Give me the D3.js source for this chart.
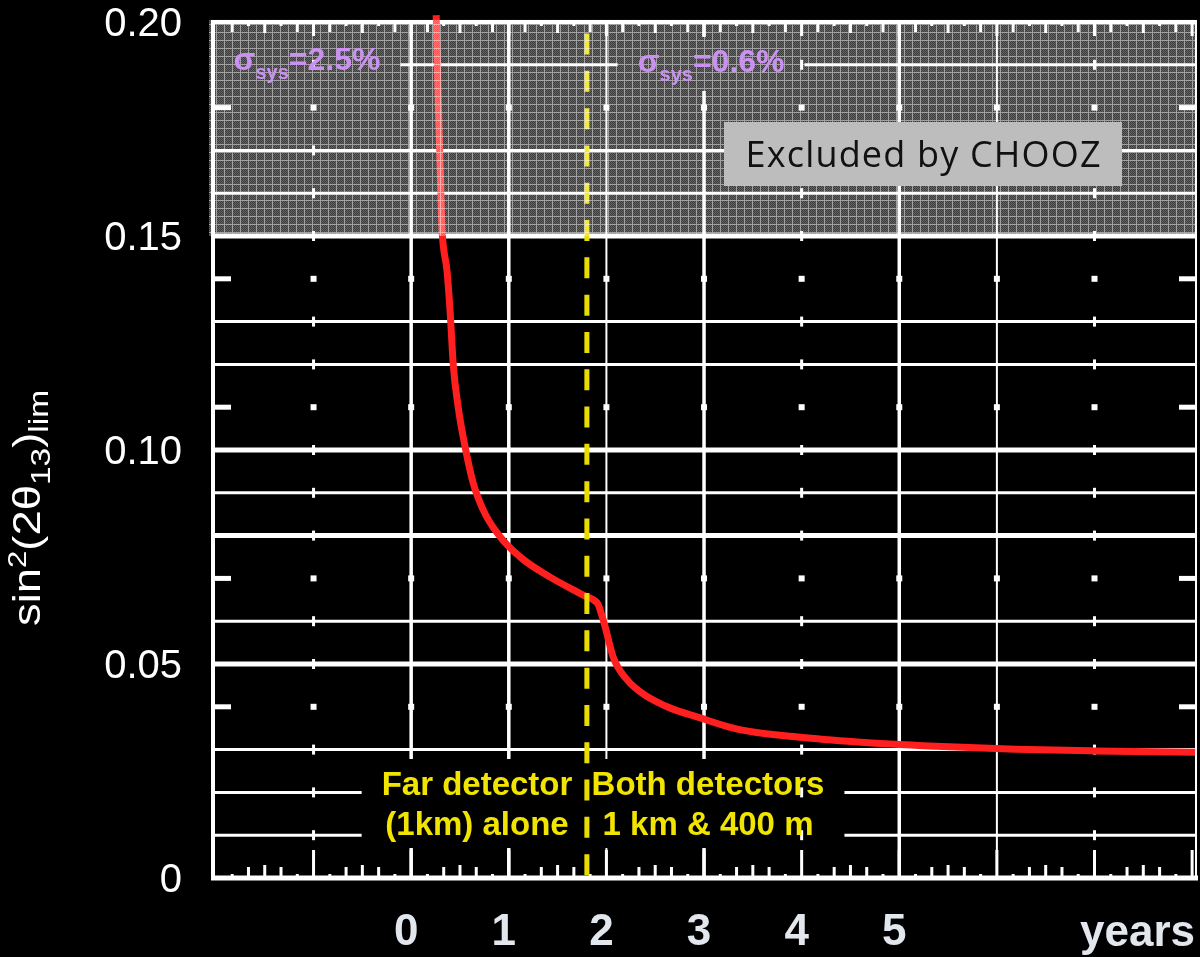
<!DOCTYPE html>
<html>
<head>
<meta charset="utf-8">
<script src="https://cdn.jsdelivr.net/npm/d3@7"></script>
<style>
  html, body { margin: 0; padding: 0; background: #000; }
  svg { display: block; }
</style>
</head>
<body>
<div id="chart"></div>
<script>
/* sensitivity curve: measuring time (years) vs sin^2(2 theta13) limit */
var years = [0.256, 0.277, 0.297, 0.318, 0.369, 0.400, 0.430, 0.482, 0.553, 0.635,
             0.738, 0.912, 1.117, 1.424, 1.762, 1.906, 1.967, 2.070, 2.213, 2.346,
             2.623, 2.961, 3.299, 3.986, 4.570, 5.380, 6.190, 7.000, 8.030];
var sinLimit = [0.2016, 0.1818, 0.1661, 0.1507, 0.1414, 0.1320, 0.1203, 0.1100, 0.1007, 0.0923,
                0.0860, 0.0797, 0.0750, 0.0703, 0.0661, 0.0643, 0.0603, 0.0516, 0.0463, 0.0435,
                0.0400, 0.0374, 0.0350, 0.0329, 0.0318, 0.0308, 0.0301, 0.0297, 0.0294];

/* axis ticks */
var yTicks = [0, 0.05, 0.10, 0.15, 0.20];
var yTickLabels = ["0", "0.05", "0.10", "0.15", "0.20"];
var xTicks = [0, 1, 2, 3, 4, 5];

/* grid of the scanned plot */
var lineRows = [0.01, 0.02, 0.03, 0.05, 0.06, 0.08, 0.09, 0.10, 0.12, 0.13, 0.15, 0.16, 0.17, 0.19];
var thickRows = [0.05, 0.08, 0.10, 0.15];
var markRows = [0.04, 0.07, 0.11, 0.14, 0.18];
var lineYears = [0, 1, 3, 5];
var thinYears = [2, 6];
var markYears = [-1, 4, 7];

/* annotations */
var choozLimit = 0.15;
var switchYear = 1.8;
var sigmaFar = "=2.5%", sigmaBoth = "=0.6%";

var W = 1200, H = 957;
var x = d3.scaleLinear().domain([-2.03, 8.05]).range([213, 1197]);
var y = d3.scaleLinear().domain([0, 0.2]).range([878, 22]);

var svg = d3.select("#chart").append("svg")
    .attr("width", W)
    .attr("height", H);

svg.append("rect").attr("width", W).attr("height", H).attr("fill", "#000");

/* texture for the excluded band */
var pat = svg.append("defs").append("pattern")
    .attr("id", "band")
    .attr("patternUnits", "userSpaceOnUse")
    .attr("width", 8).attr("height", 8);
pat.append("rect").attr("width", 8).attr("height", 8).attr("fill", "#646464");
for (var i = 0; i < 8; i++) {
  for (var j = 0; j < 8; j++) {
    if ((i + j) % 2 == 0 && i > 0 && j > 0) {
      pat.append("rect").attr("x", i).attr("y", j).attr("width", 1).attr("height", 1).attr("fill", "#3c3c3c");
    }
  }
}
pat.append("rect").attr("width", 8).attr("height", 1).attr("fill", "#a2a2a2");
pat.append("rect").attr("width", 1).attr("height", 8).attr("fill", "#a2a2a2");

/* layers in drawing order */
var gridG = svg.append("g");
var curveG = svg.append("g");
var bandG = svg.append("g");
var textG = svg.append("g");

/* ---- annotations first, so the grid can leave gaps around them ---- */
var gaps = [];
function addGap(node, padX, padY) {
  var b = node.getBBox();
  gaps.push({x0: b.x - padX, x1: b.x + b.width + padX, y0: b.y - padY, y1: b.y + b.height + padY});
}

function sigmaLabel(px, py, value) {
  var t = textG.append("text")
      .attr("x", px).attr("y", py)
      .attr("font-family", "Liberation Sans, Arial, sans-serif")
      .attr("font-weight", "bold")
      .attr("font-size", 32)
      .attr("fill", "#cc90f4");
  t.append("tspan").text("σ");
  t.append("tspan").attr("font-size", 20).attr("dy", 9).text("sys");
  t.append("tspan").attr("dy", -9).text(value);
  addGap(t.node(), 20, 6);
}
sigmaLabel(x(-1.82), 70, sigmaFar);
sigmaLabel(x(2.32), 72, sigmaBoth);

/* CHOOZ box */
var boxG = textG.append("g");
boxG.append("rect")
    .attr("x", 724).attr("y", 122)
    .attr("width", 398).attr("height", 64)
    .attr("fill", "#bdbdbd");
boxG.append("text")
    .attr("x", 923).attr("y", 167)
    .attr("text-anchor", "middle")
    .attr("font-family", "Comic Sans MS, Open Sans, sans-serif")
    .attr("font-size", 36)
    .attr("textLength", 355)
    .attr("lengthAdjust", "spacing")
    .attr("fill", "#111")
    .text("Excluded by CHOOZ");
addGap(boxG.node(), 0, 0);

/* detector labels */
function yellowBlock(cx, lines) {
  var g = textG.append("g");
  lines.forEach(function(s, k) {
    g.append("text")
      .attr("x", cx).attr("y", 795 + k * 40)
      .attr("text-anchor", "middle")
      .attr("font-family", "Liberation Sans, Arial, sans-serif")
      .attr("font-weight", "bold")
      .attr("font-size", 33)
      .attr("fill", "#f0e400")
      .text(s);
  });
  addGap(g.node(), 20, 6);
}
yellowBlock(477, ["Far detector", "(1km) alone"]);
yellowBlock(708, ["Both detectors", "1 km & 400 m"]);

/* ---- grid ---- */
function cut(a, b, list) {
  var segs = [[a, b]];
  list.forEach(function(g) {
    var out = [];
    segs.forEach(function(s) {
      if (g[1] <= s[0] || g[0] >= s[1]) { out.push(s); return; }
      if (g[0] > s[0]) out.push([s[0], g[0]]);
      if (g[1] < s[1]) out.push([g[1], s[1]]);
    });
    segs = out;
  });
  return segs.filter(function(s) { return s[1] - s[0] > 12; });
}

var X0 = x.range()[0], X1 = x.range()[1];
var Y0 = y.range()[0], Y1 = y.range()[1];

lineRows.forEach(function(v) {
  var yy = y(v);
  var g = gaps.filter(function(b) { return yy >= b.y0 && yy <= b.y1; })
              .map(function(b) { return [b.x0, b.x1]; });
  cut(X0, X1, g).forEach(function(s) {
    gridG.append("line")
      .attr("x1", s[0]).attr("x2", s[1])
      .attr("y1", yy).attr("y2", yy)
      .attr("stroke", "#fff")
      .attr("stroke-width", thickRows.indexOf(v) >= 0 ? 5 : 3);
  });
});

function vline(t, w) {
  var xx = x(t);
  var g = gaps.filter(function(b) { return xx >= b.x0 && xx <= b.x1; })
              .map(function(b) { return [b.y0, b.y1]; });
  cut(Y1, Y0, g).forEach(function(s) {
    gridG.append("line")
      .attr("x1", xx).attr("x2", xx)
      .attr("y1", s[0]).attr("y2", s[1])
      .attr("stroke", "#fff")
      .attr("stroke-width", w);
  });
}
lineYears.forEach(function(t) { vline(t, 3.5); });
thinYears.forEach(function(t) { vline(t, 2); });

/* small marks where grid lines are missing */
var allYears = d3.range(-1, 8);
markRows.forEach(function(v) {
  allYears.forEach(function(t) {
    gridG.append("rect")
      .attr("x", x(t) - 3).attr("y", y(v) - 3)
      .attr("width", 6).attr("height", 6)
      .attr("fill", "#fff");
  });
  gridG.append("rect").attr("x", X0).attr("y", y(v) - 2.5).attr("width", 18).attr("height", 5).attr("fill", "#fff");
  gridG.append("rect").attr("x", X1 - 18).attr("y", y(v) - 2.5).attr("width", 18).attr("height", 5).attr("fill", "#fff");
});
lineRows.forEach(function(v) {
  markYears.forEach(function(t) {
    gridG.append("rect")
      .attr("x", x(t) - 1.5).attr("y", y(v) - 5)
      .attr("width", 3).attr("height", 10)
      .attr("fill", "#fff");
  });
});

/* minor ticks every two months along bottom and top */
var minor = d3.range(-12, 49).map(function(k) { return k / 6; })
    .filter(function(t) { return x(t) > X0 + 4 && x(t) < X1 - 2; });
minor.forEach(function(t, k) {
  var whole = Math.abs(t - Math.round(t)) < 1e-6;
  var half = Math.abs(t * 2 - Math.round(t * 2)) < 1e-6;
  var hb = whole ? 28 : (half ? 13 : (k % 2 ? 11 : 4));
  var ht = whole ? 14 : (half ? 11 : (k % 2 ? 4 : 10));
  gridG.append("rect")
    .attr("x", x(t) - 1.5).attr("y", Y0 - hb)
    .attr("width", 3).attr("height", hb)
    .attr("fill", "#fff");
  gridG.append("rect")
    .attr("x", x(t) - 1.5).attr("y", Y1)
    .attr("width", 3).attr("height", ht)
    .attr("fill", "#fff");
});

/* frame */
gridG.append("line").attr("x1", X0).attr("x2", X0).attr("y1", Y1 - 2).attr("y2", Y0 + 2)
    .attr("stroke", "#fff").attr("stroke-width", 4);
gridG.append("line").attr("x1", X1 - 1).attr("x2", X1 - 1).attr("y1", Y1).attr("y2", Y0)
    .attr("stroke", "#fff").attr("stroke-width", 2);
gridG.append("line").attr("x1", X0 - 2).attr("x2", X1 + 1).attr("y1", Y0).attr("y2", Y0)
    .attr("stroke", "#fff").attr("stroke-width", 5);
gridG.append("line").attr("x1", X0).attr("x2", X1).attr("y1", Y1).attr("y2", Y1)
    .attr("stroke", "#fff").attr("stroke-width", 4);

/* ---- curve and detector switch ---- */
var pts = years.map(function(t, k) { return [t, sinLimit[k]]; });
var line = d3.line()
    .x(function(d) { return x(d[0]); })
    .y(function(d) { return y(d[1]); })
    .curve(d3.curveMonotoneX);

curveG.append("path")
    .attr("d", line(pts))
    .attr("fill", "none")
    .attr("stroke", "#ff1f1f")
    .attr("stroke-width", 7)
    .attr("stroke-linejoin", "round");

curveG.append("line")
    .attr("x1", x(switchYear)).attr("x2", x(switchYear))
    .attr("y1", y(0.1973)).attr("y2", Y0)
    .attr("stroke", "#e9dd00")
    .attr("stroke-width", 5)
    .attr("stroke-dasharray", "21 16.3");

/* ---- excluded band (screen blended over the plot) ---- */
bandG.append("rect")
    .attr("x", X0 - 4)
    .attr("y", y(0.2005))
    .attr("width", X1 - X0 + 4)
    .attr("height", y(choozLimit) - y(0.2005))
    .attr("fill", "url(#band)")
    .style("mix-blend-mode", "screen");

/* ---- axes text ---- */
textG.selectAll(".ylab")
  .data(yTicks)
  .enter()
    .append("text")
      .attr("class", "ylab")
      .attr("x", 182)
      .attr("y", function(d) { return y(d) + 14; })
      .attr("text-anchor", "end")
      .attr("font-family", "Liberation Sans, Arial, sans-serif")
      .attr("font-size", 40)
      .attr("fill", "#fff")
      .text(function(d, i) { return yTickLabels[i]; });

textG.selectAll(".xlab")
  .data(xTicks)
  .enter()
    .append("text")
      .attr("class", "xlab")
      .attr("x", function(d) { return x(d) - 5; })
      .attr("y", 945)
      .attr("text-anchor", "middle")
      .attr("font-family", "Liberation Sans, Arial, sans-serif")
      .attr("font-weight", "bold")
      .attr("font-size", 44)
      .attr("fill", "#e2e6ed")
      .text(function(d) { return d; });

textG.append("text")
    .attr("x", 1080).attr("y", 946)
    .attr("font-family", "Liberation Sans, Arial, sans-serif")
    .attr("font-weight", "bold")
    .attr("font-size", 44)
    .attr("fill", "#e2e6ed")
    .text("years");

/* y axis title: sin^2(2 theta_13)_lim */
var yt = textG.append("text")
    .attr("transform", "translate(40,508) rotate(-90)")
    .attr("text-anchor", "middle")
    .attr("font-family", "Liberation Sans, Arial, sans-serif")
    .attr("font-size", 38)
    .attr("fill", "#fff")
    .attr("textLength", 236)
    .attr("lengthAdjust", "spacingAndGlyphs");
yt.append("tspan").text("sin");
yt.append("tspan").attr("font-size", 26).attr("dy", -14).text("2");
yt.append("tspan").attr("dy", 14).text("(2θ");
yt.append("tspan").attr("font-size", 28).attr("dy", 10).text("13");
yt.append("tspan").attr("dy", -10).text(")");
yt.append("tspan").attr("font-size", 28).attr("dy", 8).text("lim");
</script>
</body>
</html>
